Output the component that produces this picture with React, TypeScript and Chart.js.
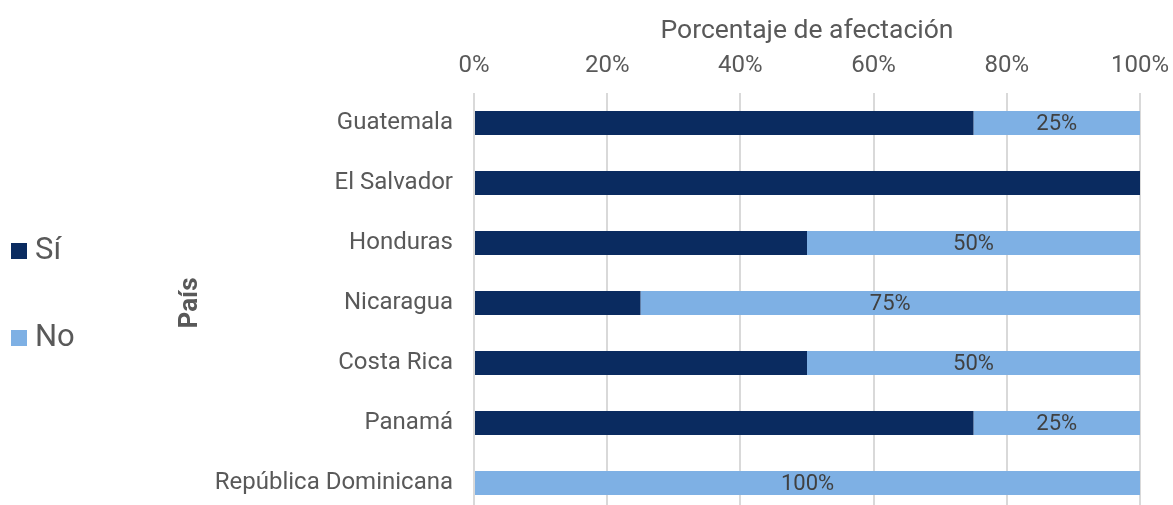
import React, { useEffect, useRef } from "react";
import { Chart, registerables } from "chart.js";

Chart.register(...registerables);

const categories = [
  "Guatemala",
  "El Salvador",
  "Honduras",
  "Nicaragua",
  "Costa Rica",
  "Panamá",
  "República Dominicana",
];
const siValues = [75, 100, 50, 25, 50, 75, 0];
const noValues = [25, 0, 50, 75, 50, 25, 100];
const seriesNames = ["Sí", "No"];
const seriesColors = ["#0a2b60", "#7eb0e4"];
const xTicks = [0, 20, 40, 60, 80, 100];
const xTitle = "Porcentaje de afectación";
const yTitle = "País";

const FONT = "Roboto, 'Liberation Sans', Arial, sans-serif";
const TEXT = "#595959";

const legendPlugin = {
  id: "leftLegend",
  afterDraw(chart: any) {
    const ctx = chart.ctx;
    ctx.save();
    const items = [
      { y: 251, box: 243 },
      { y: 338, box: 330 },
    ];
    items.forEach((it, i) => {
      ctx.fillStyle = seriesColors[i];
      ctx.fillRect(11, it.box, 16, 16);
      ctx.fillStyle = TEXT;
      ctx.font = `31px ${FONT}`;
      ctx.textAlign = "left";
      ctx.textBaseline = "middle";
      ctx.fillText(seriesNames[i], 35, it.y);
    });
    ctx.restore();
  },
};

const dataLabelPlugin = {
  id: "noLabels",
  afterDatasetsDraw(chart: any) {
    const ctx = chart.ctx;
    const meta = chart.getDatasetMeta(1);
    ctx.save();
    ctx.fillStyle = "#404040";
    ctx.font = `22px ${FONT}`;
    ctx.textAlign = "center";
    ctx.textBaseline = "middle";
    meta.data.forEach((bar: any, i: number) => {
      const v = noValues[i];
      if (!v) return;
      const p = bar.getProps(["x", "y", "base"], true);
      ctx.fillText(`${v}%`, (p.x + p.base) / 2, p.y + 1);
    });
    ctx.restore();
  },
};

const zeroPad = (s: any) => {
  s.paddingLeft = 0;
  s.paddingRight = 0;
  s.paddingTop = 0;
  s.paddingBottom = 0;
};

export default function App() {
  const ref = useRef<HTMLCanvasElement>(null);

  useEffect(() => {
    if (!ref.current) return;
    const chart = new Chart(ref.current, {
      type: "bar",
      data: {
        labels: categories,
        datasets: [
          {
            label: seriesNames[0],
            data: siValues,
            backgroundColor: seriesColors[0],
            barPercentage: 0.4,
            categoryPercentage: 1,
          },
          {
            label: seriesNames[1],
            data: noValues,
            backgroundColor: seriesColors[1],
            barPercentage: 0.4,
            categoryPercentage: 1,
          },
        ],
      },
      options: {
        indexAxis: "y",
        responsive: false,
        animation: false,
        layout: { padding: { left: 171, right: 33, top: 0, bottom: 0 } },
        plugins: {
          legend: { display: false },
          tooltip: { enabled: false },
        },
        scales: {
          x: {
            position: "top",
            stacked: true,
            min: 0,
            max: 100,
            afterBuildTicks: (s: any) => {
              s.ticks = xTicks.map((v) => ({ value: v }));
            },
            afterFit: (s: any) => {
              s.height = 93;
              zeroPad(s);
            },
            ticks: {
              callback: (v: any) => `${v}%`,
              font: { family: FONT, size: 24 },
              color: TEXT,
              padding: 13,
            },
            grid: { color: "#d9d9d9", lineWidth: 2, drawTicks: false },
            border: { display: false },
            title: {
              display: true,
              text: xTitle,
              font: { family: FONT, size: 26.5 },
              color: TEXT,
              padding: { top: 15, bottom: 0 },
            },
          },
          y: {
            stacked: true,
            afterFit: (s: any) => {
              s.width = 303;
              zeroPad(s);
            },
            ticks: {
              font: { family: FONT, size: 24 },
              color: TEXT,
              padding: 21,
            },
            grid: { display: false, drawTicks: false },
            border: { display: false },
            title: {
              display: true,
              text: yTitle,
              font: { family: FONT, size: 26, weight: "bold" },
              color: TEXT,
            },
          },
        },
      },
      plugins: [legendPlugin, dataLabelPlugin],
    });
    return () => chart.destroy();
  }, []);

  return (
    <div
      style={{
        position: "fixed",
        left: 0,
        top: 0,
        width: 1173,
        height: 505,
        overflow: "hidden",
        background: "#ffffff",
      }}
    >
      <canvas ref={ref} width={1173} height={513} style={{ width: 1173, height: 513, display: "block" }} />
    </div>
  );
}
